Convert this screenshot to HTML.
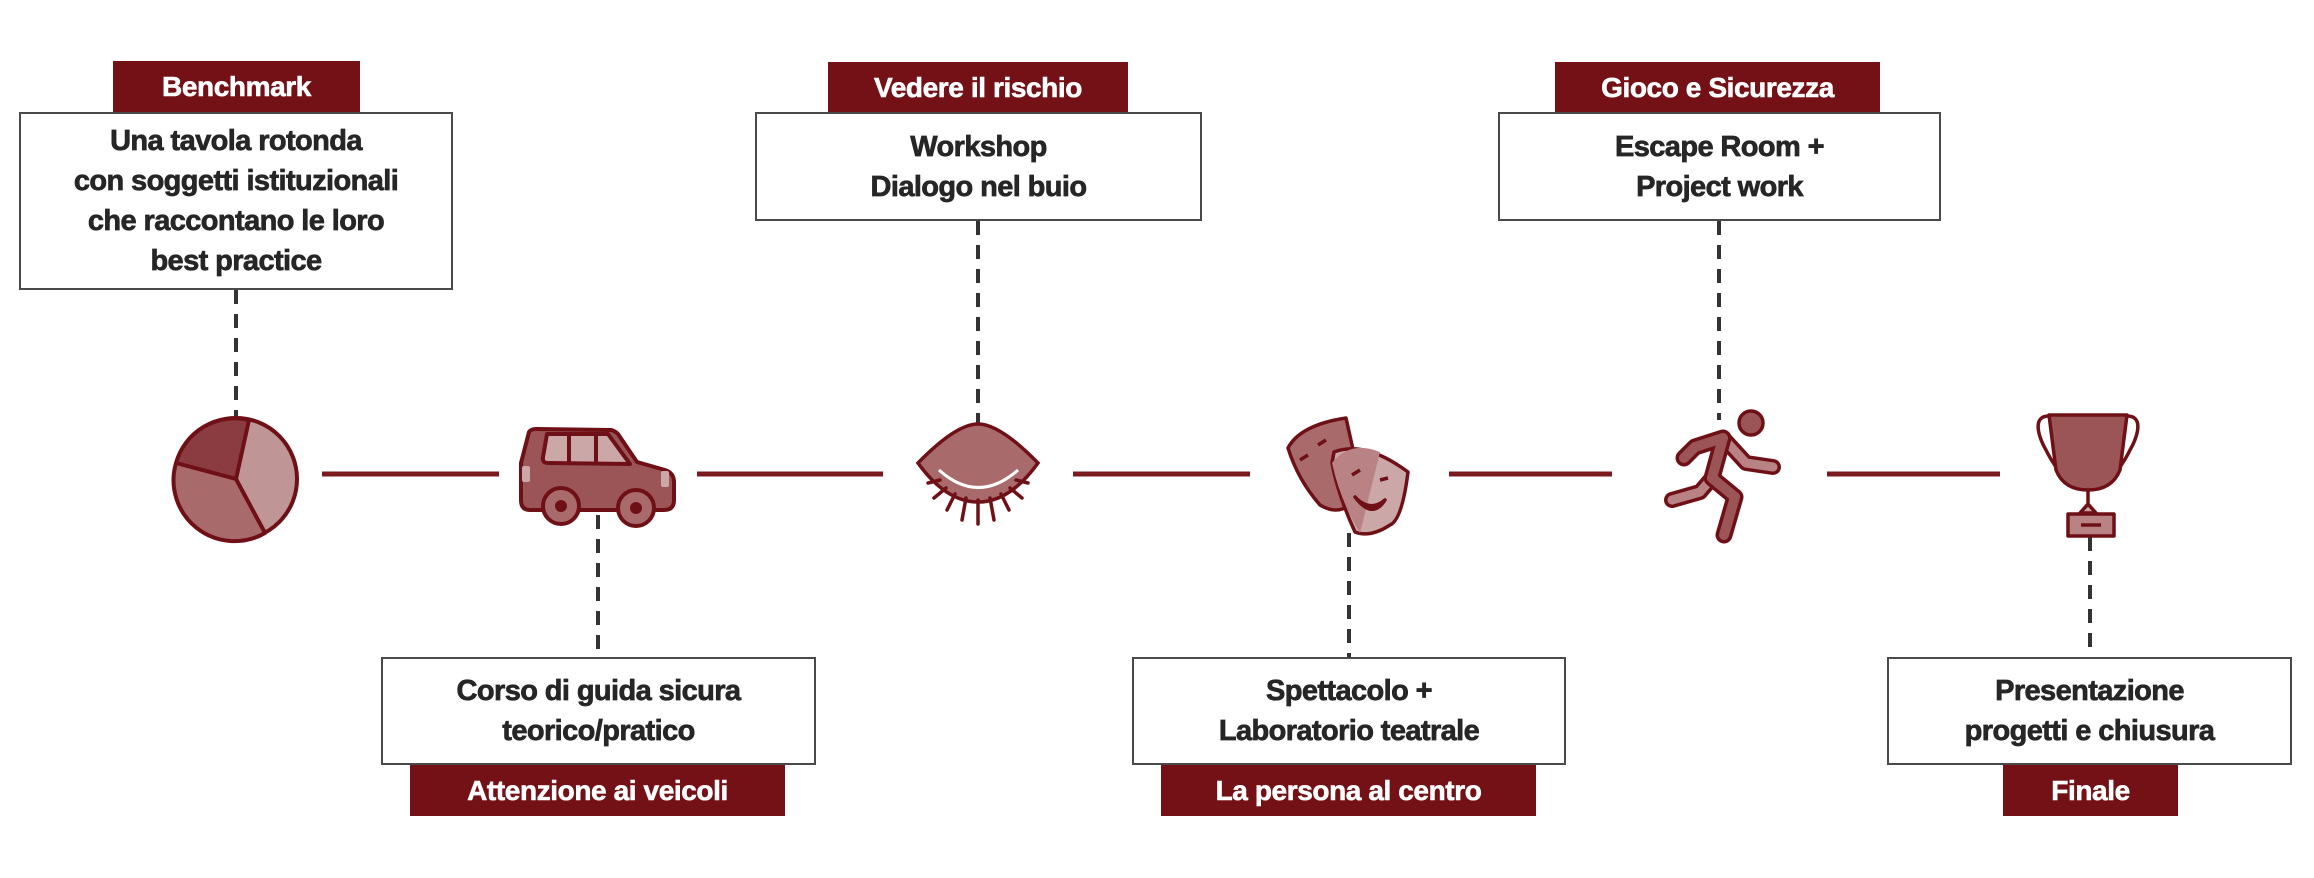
<!DOCTYPE html>
<html><head><meta charset="utf-8"><style>
html,body{margin:0;padding:0;background:#fff;}
body{width:2314px;height:878px;position:relative;overflow:hidden;font-family:"Liberation Sans",sans-serif;font-weight:bold;}
.box{position:absolute;box-sizing:border-box;border:2.5px solid #4a4a4a;background:#fff;color:#262626;font-size:29px;line-height:40px;text-align:center;display:flex;align-items:center;justify-content:center;letter-spacing:-0.6px;-webkit-text-stroke:0.7px #262626;}
.tag{position:absolute;background:#731116;color:#fff;font-size:28px;text-align:center;display:flex;align-items:center;justify-content:center;letter-spacing:-0.4px;-webkit-text-stroke:0.6px #fff;}
svg{position:absolute;left:0;top:0;}
</style></head><body>
<svg width="2314" height="878" viewBox="0 0 2314 878">
<g stroke="#7a1a1e" stroke-width="5">
<line x1="322" y1="474" x2="499" y2="474"/>
<line x1="697" y1="474" x2="883" y2="474"/>
<line x1="1073" y1="474" x2="1250" y2="474"/>
<line x1="1449" y1="474" x2="1612" y2="474"/>
<line x1="1827" y1="474" x2="2000" y2="474"/>
</g>
<g stroke="#333" stroke-width="4" stroke-dasharray="14,10">
<line x1="236" y1="290" x2="236" y2="417"/>
<line x1="978" y1="221" x2="978" y2="423"/>
<line x1="1719" y1="221" x2="1719" y2="420"/>
<line x1="598" y1="515" x2="598" y2="657"/>
<line x1="1349" y1="533" x2="1349" y2="657"/>
<line x1="2090" y1="537" x2="2090" y2="657"/>
</g>
<!-- pie -->
<g stroke="#6f1016" stroke-width="4" stroke-linejoin="round">
<circle cx="236" cy="479" r="61" fill="#bf9596"/>
<path d="M236,479 L249,420 A61,61 0 0 0 176,463 Z" fill="#8b3c40"/>
<path d="M236,479 L176,463 A61,61 0 0 0 265,533 Z" fill="#a96a6c"/>
</g>
<!-- car -->
<g stroke="#6f1016" stroke-width="4" stroke-linejoin="round">
<path d="M529,432 Q531,429 536,429 L611,430 Q615,431 618,434 L637,462 L665,470 Q674,473 674,482 L674,500 Q674,510 664,510 L530,510 Q521,510 521,500 L521,463 Z" fill="#9b5557"/>
<path d="M547,434 L608,434 L630,464 L548,463 Q542,463 543,457 Z" fill="#cba7a8"/>
<line x1="569" y1="434" x2="569" y2="463"/><line x1="596" y1="434" x2="596" y2="464"/>
<circle cx="561" cy="506" r="18" fill="#a96a6c"/><circle cx="561" cy="506" r="4" fill="#6f1016"/>
<circle cx="636" cy="508" r="18" fill="#a96a6c"/><circle cx="636" cy="508" r="4" fill="#6f1016"/>
</g>
<rect x="522" y="466" width="8" height="16" rx="2" fill="#cba7a8"/>
<rect x="661" y="471" width="8" height="16" rx="2" fill="#cba7a8"/>
<!-- eye -->
<g stroke="#6f1016" stroke-width="3.5" fill="none" stroke-linecap="round">
<path d="M978,424 Q1000,424 1038,463 Q1010,502 978,502 Q946,502 918,463 Q956,424 978,424 Z" fill="#a96a6c"/>
<path d="M940,480 L928,483 M946,488 L934,498 M955,494 L947,510 M966,498 L962,520 M978,500 L978,524 M990,498 L994,520 M1001,494 L1009,510 M1010,488 L1022,498 M1016,480 L1028,483"/>
</g>
<path d="M939,470 Q978,505 1018,470" stroke="#fff" stroke-width="3" fill="none"/>
<!-- masks -->
<g stroke="#6f1016" stroke-width="3.5" stroke-linejoin="round">
<path d="M1288,448 Q1300,425 1346,418 L1362,490 Q1345,520 1320,505 Q1298,480 1288,448 Z" fill="#a96a6c"/>
<path d="M1334,452 Q1365,440 1408,472 Q1402,520 1390,525 Q1370,538 1355,532 Q1338,495 1332,463 Z" fill="#cba7a8"/>
<path d="M1332,463 Q1350,440 1380,452 L1360,533 Q1340,500 1332,463 Z" fill="#b98385" stroke="none"/>
<path d="M1355,497 Q1370,513 1385,500 Q1372,520 1355,497 Z" fill="#6f1016"/>
<path d="M1352,475 L1360,470 M1380,480 L1388,478" fill="none"/>
<path d="M1300,460 L1308,455 M1318,445 L1326,440" fill="none"/>
</g>
<!-- runner -->
<circle cx="1751" cy="423" r="12" fill="#9b5557" stroke="#6f1016" stroke-width="3.5"/>
<g fill="none" stroke-linecap="round" stroke-linejoin="round">
<path d="M1712,478 L1700,492 L1672,500 M1723,438 L1746,463 L1773,467" stroke="#6f1016" stroke-width="16"/>
<path d="M1712,478 L1700,492 L1672,500 M1723,438 L1746,463 L1773,467" stroke="#b98385" stroke-width="9"/>
<path d="M1684,458 L1695,447 L1723,438 L1712,478 L1735,497 L1724,535" stroke="#6f1016" stroke-width="17"/>
<path d="M1684,458 L1695,447 L1723,438 L1712,478 L1735,497 L1724,535" stroke="#9b5557" stroke-width="10"/>
</g>
<!-- trophy -->
<g stroke="#6f1016" stroke-width="3.5" stroke-linejoin="round">
<path d="M2050,416 C2030,415 2040,440 2046,450 Q2055,468 2062,473 M2126,416 C2146,415 2136,440 2130,450 Q2121,468 2114,473" fill="none"/>
<path d="M2049,415 H2127 L2120,470 Q2112,490 2088,490 Q2064,490 2056,470 Z" fill="#9b5557"/>
<line x1="2088" y1="490" x2="2088" y2="506"/>
<path d="M2088,504 L2096,513 L2080,513 Z" fill="#cba7a8"/>
<rect x="2068" y="514" width="46" height="22" fill="#b98385"/>
<line x1="2081" y1="525" x2="2101" y2="525"/>
</g>
</svg>

<div class="tag" style="left:113px;top:61px;width:247px;height:52px;">Benchmark</div>
<div class="box" style="left:19px;top:112px;width:434px;height:178px;">Una tavola rotonda<br>con soggetti istituzionali<br>che raccontano le loro<br>best practice</div>

<div class="tag" style="left:828px;top:62px;width:300px;height:51px;">Vedere il rischio</div>
<div class="box" style="left:755px;top:112px;width:447px;height:109px;">Workshop<br>Dialogo nel buio</div>

<div class="tag" style="left:1555px;top:62px;width:325px;height:51px;">Gioco e Sicurezza</div>
<div class="box" style="left:1498px;top:112px;width:443px;height:109px;">Escape Room +<br>Project work</div>

<div class="box" style="left:381px;top:657px;width:435px;height:108px;">Corso di guida sicura<br>teorico/pratico</div>
<div class="tag" style="left:410px;top:765px;width:375px;height:51px;">Attenzione ai veicoli</div>

<div class="box" style="left:1132px;top:657px;width:434px;height:108px;">Spettacolo +<br>Laboratorio teatrale</div>
<div class="tag" style="left:1161px;top:765px;width:375px;height:51px;">La persona al centro</div>

<div class="box" style="left:1887px;top:657px;width:405px;height:108px;">Presentazione<br>progetti e chiusura</div>
<div class="tag" style="left:2003px;top:765px;width:175px;height:51px;">Finale</div>
</body></html>
